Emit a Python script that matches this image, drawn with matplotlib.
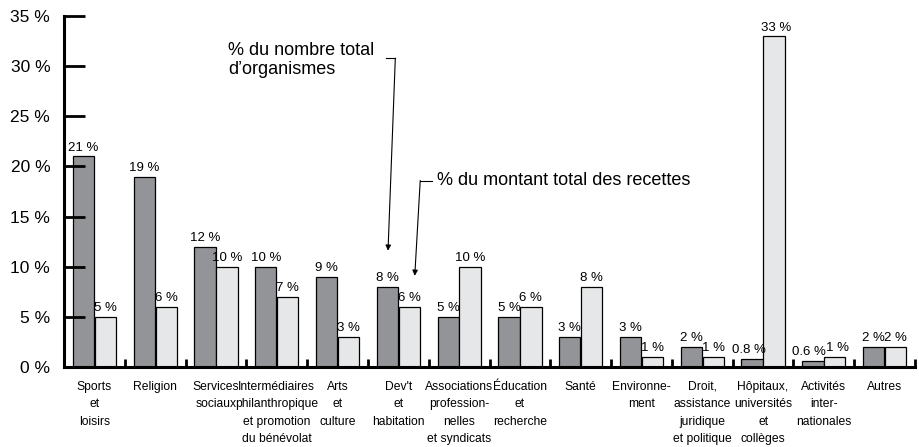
import matplotlib
matplotlib.use('Agg')
import matplotlib.pyplot as plt
import numpy as np

plt.rcParams['font.family'] = ['Liberation Sans', 'DejaVu Sans']

categories = ['Sports\net\nloisirs', 'Religion', 'Services\nsociaux',
              'Intermédiaires\nphilanthropique\net promotion\ndu bénévolat',
              'Arts\net\nculture', "Dev't\net\nhabitation",
              'Associations\nprofession-\nnelles\net syndicats',
              'Éducation\net\nrecherche', 'Santé', 'Environne-\nment',
              'Droit,\nassistance\njuridique\net politique',
              'Hôpitaux,\nuniversités\net\ncollèges',
              'Activités\ninter-\nnationales', 'Autres']
organismes = [21, 19, 12, 10, 9, 8, 5, 5, 3, 3, 2, 0.8, 0.6, 2]
recettes = [5, 6, 10, 7, 3, 6, 10, 6, 8, 1, 1, 33, 1, 2]
org_labels = ['21 %', '19 %', '12 %', '10 %', '9 %', '8 %', '5 %', '5 %',
              '3 %', '3 %', '2 %', '0.8 %', '0.6 %', '2 %']
rec_labels = ['5 %', '6 %', '10 %', '7 %', '3 %', '6 %', '10 %', '6 %',
              '8 %', '1 %', '1 %', '33 %', '1 %', '2 %']
yticks = [0, 5, 10, 15, 20, 25, 30, 35]

dark = '#929497'
light = '#e6e7e8'

fig = plt.figure(figsize=(9.2, 4.47), dpi=100)
ax = fig.add_axes([0.0696, 0.179, 0.925, 0.785])

x = np.arange(len(categories))
w = 0.35
off = 0.18
ax.bar(x - off, organismes, w, color=dark, edgecolor='black', linewidth=0.9)
ax.bar(x + off, recettes, w, color=light, edgecolor='black', linewidth=0.9)

for i in range(len(categories)):
    small = organismes[i] < 1
    ax.text(x[i] - off - (0.06 if small else 0), organismes[i] + 0.25,
            org_labels[i], ha='center', va='bottom', fontsize=9.5)
    ax.text(x[i] + off + (0.04 if small else 0), recettes[i] + 0.25,
            rec_labels[i], ha='center', va='bottom', fontsize=9.5)

ax.set_xlim(-0.5, len(categories) - 0.5)
ax.set_ylim(0, 35)

ax.spines['top'].set_visible(False)
ax.spines['right'].set_visible(False)
ax.spines['left'].set_linewidth(2.2)
ax.spines['bottom'].set_linewidth(2.2)

ax.set_yticks(yticks)
ax.set_yticklabels([f'{v} %' for v in yticks], fontsize=12.5)
ax.tick_params(axis='y', direction='in', length=15, width=2, pad=10)

ax.set_xticks(x)
ax.set_xticklabels(categories, fontsize=8.7, linespacing=1.6, va='top')
ax.tick_params(axis='x', which='major', length=0, pad=10)
ax.set_xticks(np.arange(len(categories)) + 0.5, minor=True)
ax.tick_params(axis='x', which='minor', direction='in', length=5.5, width=2)

# annotations
ax.text(2.2, 32.4, '% du nombre total\nd\u2019organismes', fontsize=13,
        va='top', ha='left', linespacing=1.15)
ax.plot([4.8, 4.95], [30.8, 30.8], color='black', lw=0.8)
ax.annotate('', xy=(4.83, 11.6), xytext=(4.95, 30.8),
            arrowprops=dict(arrowstyle='-|>', color='black', lw=0.8,
                            mutation_scale=8, shrinkA=0, shrinkB=0))

ax.text(5.64, 18.6, '% du montant total des recettes', fontsize=13,
        va='center', ha='left')
ax.plot([5.36, 5.56], [18.6, 18.6], color='black', lw=0.8)
ax.annotate('', xy=(5.27, 9.1), xytext=(5.36, 18.6),
            arrowprops=dict(arrowstyle='-|>', color='black', lw=0.8,
                            mutation_scale=8, shrinkA=0, shrinkB=0))

fig.savefig('out.png', dpi=100)
